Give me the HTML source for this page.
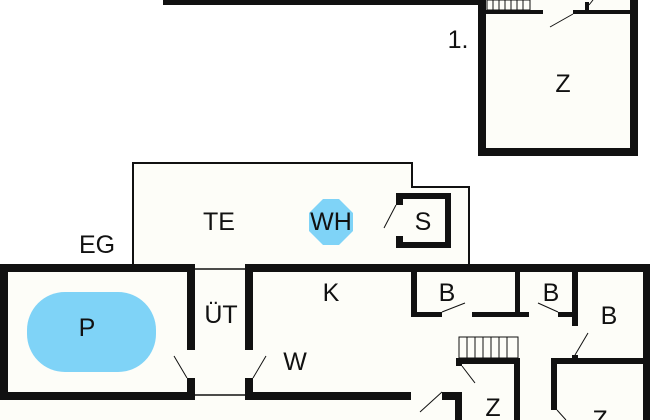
<!DOCTYPE html><html><head><style>
body{margin:0;background:#fff}
svg{display:block}
text{font-family:"Liberation Sans",sans-serif;font-size:25px;fill:#111;text-anchor:middle;dominant-baseline:central}
</style></head><body>
<svg width="650" height="420" viewBox="0 0 650 420">
<rect x="0" y="0" width="650" height="420" fill="#fff"/>
<!-- top -->
<rect x="163" y="0" width="320" height="5" fill="#111"/>
<rect x="478" y="0" width="160" height="155" fill="#fdfdf8"/>
<g fill="#111">
<rect x="478" y="0" width="8" height="155"/>
<rect x="630" y="0" width="8" height="155"/>
<rect x="478" y="148" width="160" height="8"/>
<rect x="486" y="10" width="57" height="4"/>
<rect x="573" y="10" width="60" height="4"/>
<rect x="585" y="2" width="4" height="10"/>
</g>
<g stroke="#111" stroke-width="1">
<rect x="487" y="0" width="43" height="10" fill="none"/>
<path d="M493 0v10M499 0v10M505 0v10M511 0v10M517 0v10M523 0v10"/>
<path d="M573 14L550 27M589 5l4-5"/>
</g>
<text x="458" y="40">1.</text>
<text x="563" y="84">Z</text>
<!-- TE -->
<path d="M133 264V163H412V187H469V264" fill="#fdfdf8" stroke="#111" stroke-width="2"/>
<polygon points="323,199 339,199 353,213 353,231 339,245 323,245 309,231 309,213" fill="#7fd3f7"/>
<g fill="#111">
<rect x="396" y="193" width="55" height="6"/>
<rect x="445" y="193" width="6" height="55"/>
<rect x="396" y="242" width="55" height="6"/>
<rect x="396" y="193" width="7" height="12"/>
<rect x="396" y="236" width="7" height="12"/>
</g>
<path d="M396 205L384 228" stroke="#111" stroke-width="1"/>
<text x="219" y="222">TE</text>
<text x="331" y="222">WH</text>
<text x="423" y="222">S</text>
<text x="97" y="245">EG</text>
<!-- main -->
<rect x="0" y="264" width="650" height="156" fill="#fdfdf8"/>
<g fill="#111">
<rect x="0" y="264" width="195" height="8"/>
<rect x="0" y="264" width="8" height="136"/>
<rect x="0" y="392" width="195" height="8"/>
<rect x="187" y="264" width="8" height="86"/>
<rect x="187" y="378" width="8" height="22"/>
<rect x="245" y="264" width="405" height="8"/>
<rect x="245" y="264" width="8" height="86"/>
<rect x="245" y="378" width="8" height="22"/>
<rect x="245" y="392" width="166" height="8"/>
<rect x="442" y="392" width="19" height="8"/>
<rect x="455" y="392" width="7" height="28"/>
<rect x="411" y="264" width="6" height="53"/>
<rect x="411" y="312" width="31" height="5"/>
<rect x="472" y="312" width="57" height="5"/>
<rect x="558" y="312" width="20" height="5"/>
<rect x="515" y="264" width="5" height="53"/>
<rect x="572" y="264" width="6" height="62"/>
<rect x="572" y="355" width="6" height="5"/>
<rect x="551" y="358" width="99" height="6"/>
<rect x="551" y="358" width="6" height="52"/>
<rect x="456" y="358" width="62" height="6"/>
<rect x="456" y="358" width="6" height="8"/>
<rect x="514" y="358" width="6" height="62"/>
<rect x="643" y="264" width="7" height="156"/>
</g>
<path d="M195 269H245M195 395H245" stroke="#111" stroke-width="1.5"/>
<rect x="459" y="337" width="59" height="21" fill="none" stroke="#111" stroke-width="1"/>
<path d="M467 337v21M475 337v21M483 337v21M491 337v21M499 337v21M507 337v21" stroke="#111" stroke-width="1"/>
<g stroke="#111" stroke-width="1">
<path d="M187 378L174 356M253 378L266 356M442 392L420 412M442 312L465 303M558 312L538 303M575 355L588 333M462 366L475 383M557 410L566 420"/>
</g>
<rect x="27" y="292" width="129" height="80" rx="38" fill="#7fd3f7"/>
<text x="87" y="328">P</text>
<text x="221" y="315">ÜT</text>
<text x="331" y="293">K</text>
<text x="447" y="293">B</text>
<text x="551" y="293">B</text>
<text x="609" y="316">B</text>
<text x="295" y="362">W</text>
<text x="493" y="408">Z</text>
<text x="600" y="420">Z</text>
</svg>
</body></html>
